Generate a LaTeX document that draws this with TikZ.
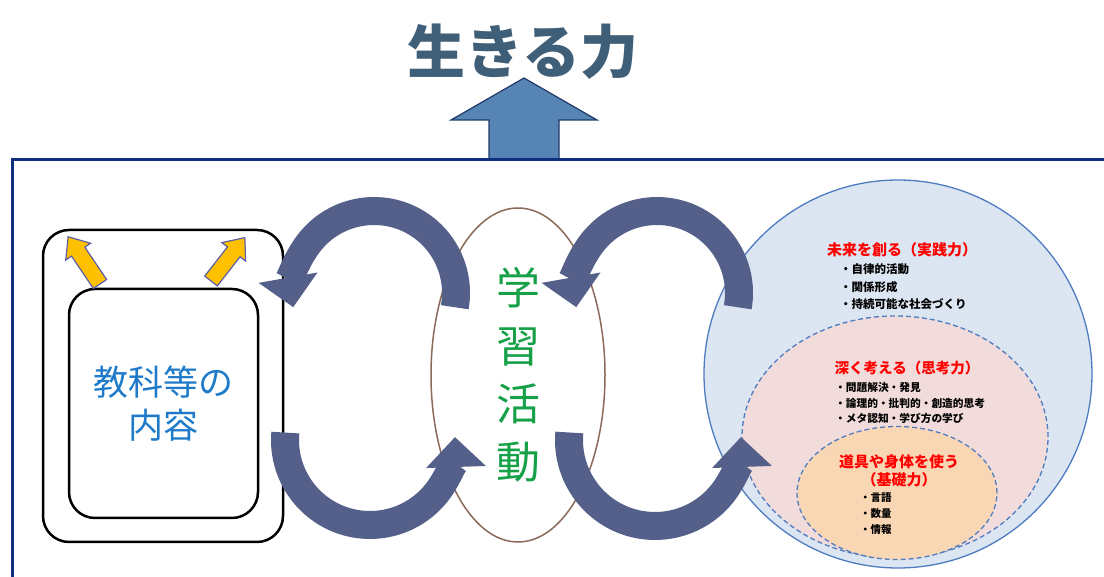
\documentclass[tikz,border=0pt]{standalone}
\usepackage{fontspec}
\newfontfamily\jpfont{Noto Sans CJK JP}
\usepackage{xcolor}
\usetikzlibrary{arrows.meta,shapes.geometric,positioning}
\definecolor{titlecol}{HTML}{3F5E78}
\definecolor{upfill}{HTML}{5685B5}
\definecolor{upline}{HTML}{1F3A66}
\definecolor{framecol}{HTML}{0E2F7F}
\definecolor{loopcol}{HTML}{55608A}
\definecolor{actcol}{HTML}{8C6A5A}
\definecolor{actgreen}{HTML}{16A048}
\definecolor{subjblue}{HTML}{1F7AC9}
\definecolor{bigfill}{HTML}{DCE6F2}
\definecolor{ringcol}{HTML}{4F7BC0}
\definecolor{pinkfill}{HTML}{F2DCDB}
\definecolor{peachfill}{HTML}{FAD7B4}
\definecolor{yel}{HTML}{FFC000}
\definecolor{yelline}{HTML}{5B5EA6}
\tikzset{
  loop/.style={line width=28, draw=loopcol, -{Triangle[width=58pt,length=30pt]}},
  yarrow/.style={fill=yel, draw=yelline, line width=1.2},
  box/.style={draw, line width=2.5, rounded corners=26},
  dashring/.style={draw=ringcol, dash pattern=on 5pt off 3pt, line width=1.3},
  redhead/.style={font=\jpfont\bfseries\fontsize{15}{18}\selectfont, text=red, align=center},
  items/.style={align=left, anchor=west, inner sep=0}
}
\begin{document}
\begin{tikzpicture}[x=1pt,y=1pt]
    \useasboundingbox (0,0) rectangle (1104,577);
    \clip (0,0) rectangle (1104,577);
    %%%% top
    \draw[fill=upfill, draw=upline, line width=1.2] (489,417) -- (489,457) -- (451,457) -- (524,499) -- (597,457) -- (559,457) -- (559,417) -- cycle;
    \draw[framecol, line width=3] (12,-10) -- (12,417) -- (1120,417);
    \node[font=\jpfont\bfseries\fontsize{58}{60}\selectfont, text=titlecol] (title) at (523,525) {生きる力};
    %%%% right circles
    \node[circle, fill=bigfill, draw=ringcol, line width=1.3, minimum size=388] (practice) at (898,203) {};
    \node[ellipse, fill=pinkfill, dashring, minimum width=306, minimum height=242] (thinking) at (895,140) {};
    \node[ellipse, fill=peachfill, dashring, minimum width=200, minimum height=133] (basic) at (897,84) {};
    \node[redhead] (practicehead) at (902,327) {未来を創る（実践力）};
    \node[items, font=\jpfont\bfseries\fontsize{11.5}{17.5}\selectfont] (practiceitems) at (840,290) {・自律的活動\\・関係形成\\・持続可能な社会づくり};
    \node[redhead, font=\jpfont\bfseries\fontsize{14.5}{18}\selectfont] (thinkinghead) at (907,209) {深く考える（思考力）};
    \node[items, font=\jpfont\bfseries\fontsize{10.7}{15.5}\selectfont] (thinkingitems) at (835,174) {・問題解決・発見\\・論理的・批判的・創造的思考\\・メタ認知・学び方の学び};
    \node[redhead, font=\jpfont\bfseries\fontsize{15}{18}\selectfont] (basichead) at (899,106) {道具や身体を使う\\（基礎力）};
    \node[items, font=\jpfont\bfseries\fontsize{10.5}{16}\selectfont] (basicitems) at (860,63) {・言語\\・数量\\・情報};
    %%%% left boxes
    \node[box, minimum width=240, minimum height=312] (outerbox) at (163,191) {};
    \node[box, minimum width=189, minimum height=229, align=center, text=subjblue,
          font=\jpfont\fontsize{35}{43}\selectfont] (subject) at (163.5,173.5) {教科等の\\内容};
    \draw[yarrow, shift={(100,293)}, rotate=124] (0,-8) -- (39,-8) -- (39,-15) -- (57,0) -- (39,15) -- (39,8) -- (0,8) -- cycle;
    \draw[yarrow, shift={(211,296)}, rotate=52] (0,-8) -- (37,-8) -- (37,-15) -- (55,0) -- (37,15) -- (37,8) -- (0,8) -- cycle;
    %%%% learning activity
    \node[ellipse, draw=actcol, line width=1.5, minimum width=174, minimum height=334, align=center,
          text=actgreen, font=\jpfont\fontsize{44}{58}\selectfont] (activity) at (518,202) {学\\習\\活\\動};
    %%%% loops
    \coordinate (loopA) at (374,284);
    \coordinate (loopB) at (370,137);
    \coordinate (loopC) at (657,284);
    \coordinate (loopD) at (655,137);
    \draw[loop] ([shift={(-10:82)}]loopA) arc[start angle=-10, end angle=190, radius=82];
    \draw[loop] ([shift={(175:85)}]loopB) arc[start angle=175, end angle=362, radius=85];
    \draw[loop] ([shift={(-10:82)}]loopC) arc[start angle=-10, end angle=190, radius=82];
    \draw[loop] ([shift={(175:86)}]loopD) arc[start angle=175, end angle=362, radius=86];
\end{tikzpicture}
\end{document}
